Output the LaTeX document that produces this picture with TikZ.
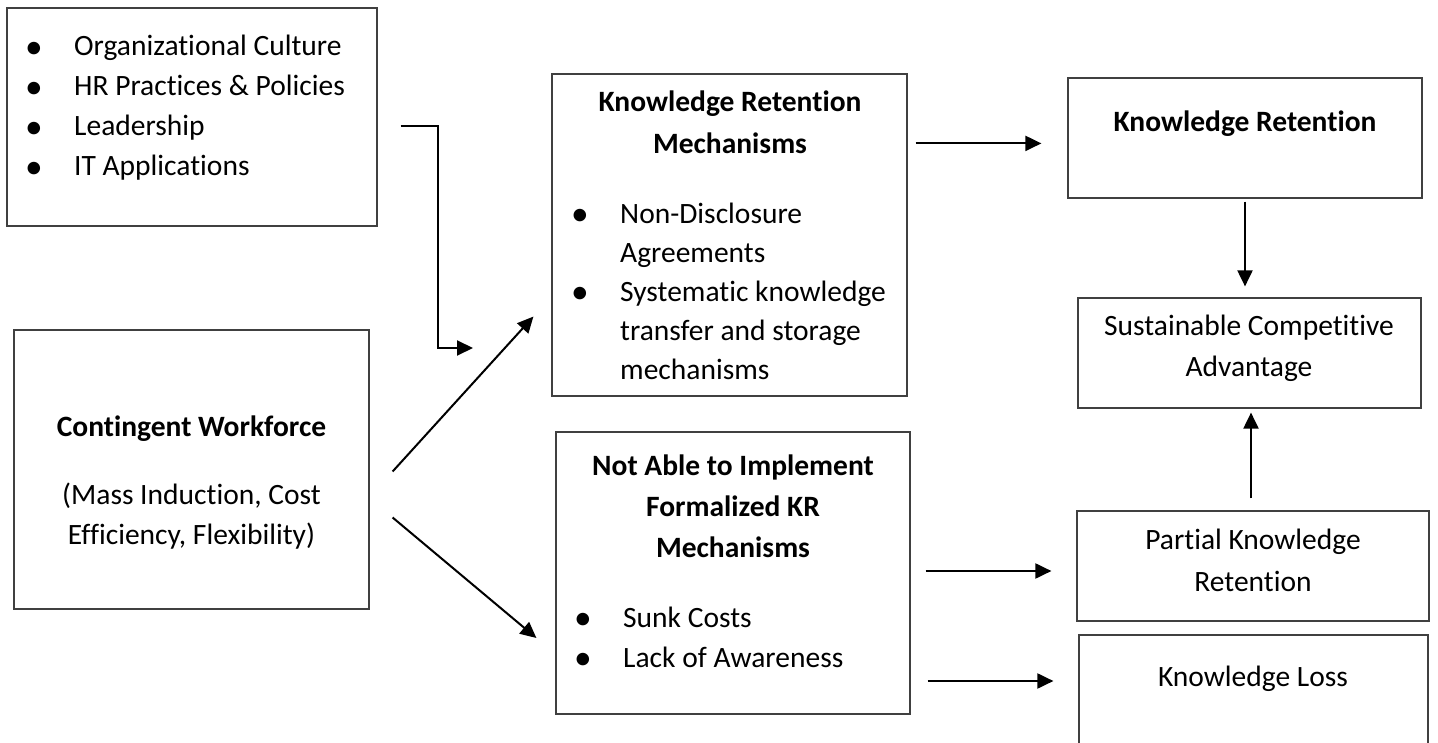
\documentclass[tikz,border=0pt]{standalone}
\usepackage{fontspec}
\setmainfont{Carlito}[Ligatures=CommonOff]
\usetikzlibrary{arrows.meta}

\newcommand{\kfont}{\fontsize{29.5}{40}\selectfont}
\newcommand{\kitem}[1]{\makebox[49pt][l]{\raisebox{-2.5pt}{\scalebox{1.2}{\textbullet}}}#1}

\tikzset{
  box/.style={draw=black!75, line width=1.2pt, inner sep=0pt},
  txt/.style={inner sep=0pt, font=\kfont},
  flow/.style={line width=2pt, -{Triangle[length=16pt,width=15pt]}},
}

\begin{document}
\begin{tikzpicture}[x=1pt, y=-1pt]
    \clip (0,0) rectangle (1438,743);
    % boxes
    \node[box, minimum width=370pt, minimum height=218pt] (ctx) at (192,117) {};
    \node[box, minimum width=355pt, minimum height=279pt] (wf) at (191.5,469.5) {};
    \node[box, minimum width=355pt, minimum height=322pt] (krm) at (729.5,235) {};
    \node[box, minimum width=354pt, minimum height=282pt] (nokr) at (733,573) {};
    \node[box, minimum width=354pt, minimum height=120pt] (kr) at (1245,138) {};
    \node[box, minimum width=343pt, minimum height=110pt] (sca) at (1249.5,353) {};
    \node[box, minimum width=352pt, minimum height=110pt] (pkr) at (1253,566) {};
    \node[box, minimum width=349pt, minimum height=130pt] (kl) at (1253.5,700) {};

    % texts (base = last line)
    \node[txt, align=left, anchor=base west] (ctxT) at (25,176)
      {\kitem{Organizational Culture}\\ \kitem{HR Practices \& Policies}\\
       \kitem{Leadership}\\ \kitem{IT Applications}};
    \node[txt, align=center, anchor=base] (wfT) at (191.5,544)
      {\textbf{Contingent Workforce}\\[28pt] (Mass Induction, Cost\\ Efficiency, Flexibility)};
    \node[txt, align=center, anchor=base] (krmT) at (730,154)
      {\textbf{Knowledge Retention}\\[2pt] \textbf{Mechanisms}};
    \node[txt, align=left, anchor=base west] (krmL) at (571,379)
      {\kitem{Non-Disclosure}\\[-1pt] \hspace*{49pt}Agreements\\[-1pt] \kitem{Systematic knowledge}\\[-1pt]
       \hspace*{49pt}transfer and storage\\[-1pt] \hspace*{49pt}mechanisms};
    \node[txt, align=center, anchor=base] (nokrT) at (733,557)
      {\textbf{Not Able to Implement}\\[1pt] \textbf{Formalized KR}\\[1pt] \textbf{Mechanisms}};
    \node[txt, align=left, anchor=base west] (nokrL) at (574,667)
      {\kitem{Sunk Costs}\\ \kitem{Lack of Awareness}};
    \node[txt, anchor=base] (krT) at (1245,132) {\textbf{Knowledge Retention}};
    \node[txt, align=center, anchor=base] (scaT) at (1249,377)
      {Sustainable Competitive\\[1pt] Advantage};
    \node[txt, align=center, anchor=base] (pkrT) at (1253,591)
      {Partial Knowledge\\[2pt] Retention};
    \node[txt, anchor=base] (klT) at (1253,686) {Knowledge Loss};

    % connectors
    \coordinate (elbowEnd) at (473,348);
    \draw[flow] ([shift={(23pt,-9pt)}]ctx.east) -- ++(37,0) |- (elbowEnd);
    \draw[flow] ([shift={(23pt,-2pt)}]wf.east) -- ([shift={(-18pt,80pt)}]krm.south west);
    \draw[flow] ([shift={(23pt,-48pt)}]wf.east) -- ([shift={(-19pt,-65pt)}]nokr.west);
    \draw[flow, shorten >=26pt] ([shift={(8pt,-70pt)}]krm.north east) coordinate (p1) -- (p1 -| kr.west);
    \draw[flow] ([yshift=-3pt]kr.south) -- ([yshift=11pt]kr.south |- sca.north);
    \draw[flow] ([shift={(-2pt,12pt)}]pkr.north) -- ([shift={(-2pt,-4pt)}]pkr.north |- sca.south);
    \draw[flow, shorten >=25pt] ([shift={(15pt,2pt)}]nokr.east) coordinate (p2) -- (p2 -| pkr.west);
    \draw[flow, shorten >=25pt] ([shift={(17pt,-108pt)}]nokr.east) coordinate (p3) -- (p3 -| kl.west);
\end{tikzpicture}
\end{document}
